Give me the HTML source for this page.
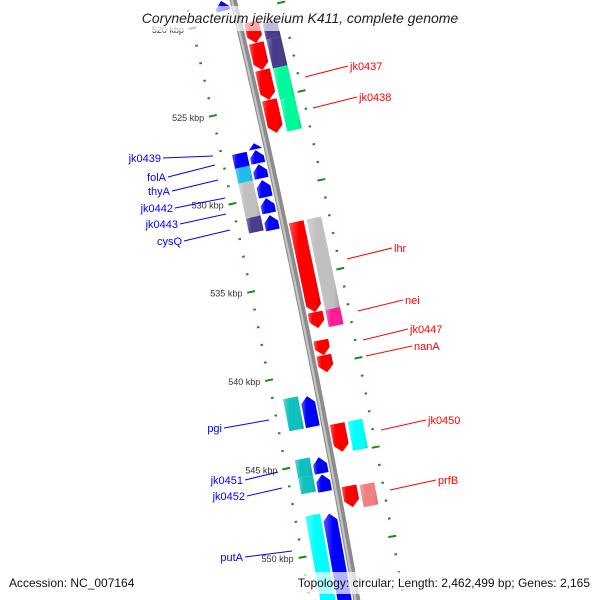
<!DOCTYPE html>
<html><head><meta charset="utf-8"><style>
html,body{margin:0;padding:0;background:#fff;width:600px;height:600px;overflow:hidden}
svg{display:block;font-family:"Liberation Sans",sans-serif;overflow:hidden}
</style></head><body>
<svg id="map" width="600" height="600" viewBox="0 0 600 600" xmlns="http://www.w3.org/2000/svg">
<defs id="defs"></defs>
<g id="ticks"></g>
<g id="backbone"></g>
<g id="genes"></g>
<g id="labels" font-size="11"></g>
<rect x="0" y="6" width="600" height="25" fill="#fff" fill-opacity="0.65"/>
<text x="300" y="23" text-anchor="middle" font-size="14" font-style="italic" fill="#222">Corynebacterium jeikeium K411, complete genome</text>
<rect x="0" y="572" width="600" height="22" fill="#fff" fill-opacity="0.7"/>
<text x="9" y="587" font-size="12" fill="#111">Accession: NC_007164</text>
<text x="590" y="587" text-anchor="end" font-size="12" fill="#111">Topology: circular; Length: 2,462,499 bp; Genes: 2,165</text>
</svg>
<script>
// ---- data (kbp) ----
const geneStart = [518.9, 520.42,521.61,523.14,524.83, 520.6,521.55,523.19,524.94,
  526.98,527.37,528.17,529.07,530.09,531.05, 527.35,528.14,528.98,530.96,
  531.72,536.81,538.39,539.24, 531.72,536.81,
  541.19,541.27,543.08,543.08, 544.63,545.65,544.72,545.68, 546.58,546.64, 547.8,547.88];
const geneEnd = [519.47, 521.61,523.14,524.83,526.70, 521.55,523.19,524.94,526.75,
  527.32,528.11,528.96,530.03,530.93,531.89, 528.14,528.98,530.96,531.81,
  536.81,537.71,539.24,540.2, 536.81,537.77,
  543.0,543.0,544.66,544.72, 545.65,546.55,545.62,546.64, 547.77,547.88, 554,554];
const geneLane = [-1, 1,1,1,1, 2,2,2,2, -1,-1,-1,-1,-1,-1, -2,-2,-2,-2, 1,1,1,1, 2,2,
  -2,-1,1,2, -2,-2,-1,-1, 1,2, -2,-1];
const geneColor = ['#0000ff','#ff0000','#ff0000','#ff0000','#ff0000','#483d8b','#483d8b','#00fa9a','#00fa9a',
  '#0000ff','#0000ff','#0000ff','#0000ff','#0000ff','#0000ff','#0000ff','#22bbee','#c0c0c0','#483d8b',
  '#ff0000','#ff0000','#ff0000','#ff0000','#c0c0c0','#ff1e96',
  '#10c0c0','#0000ff','#ff0000','#00ffff','#10c0c0','#10c0c0','#0000ff','#0000ff','#ff0000','#f08080','#00ffff','#0000ff'];
const geneArrow = [1,1,1,1,1,0,0,0,0,1,1,1,1,1,1,0,0,0,0,1,1,1,1,0,0,0,1,1,0,0,0,1,1,1,0,0,1];
const majorTicks = [520,525,530,535,540,545,550,555];
const tickLabels = ['520 kbp','525 kbp','530 kbp','535 kbp','540 kbp','545 kbp','550 kbp','555 kbp'];
const outerMajorTicks = [519.75,524.75,529.75,534.75,539.75,544.75,549.75,554.75];

// ---- geometry ----
const NS='http://www.w3.org/2000/svg';
const R=10000, P0=[283,220], phi0=12.1*Math.PI/180, BP0=531.47, K=18.1;
const C=[P0[0]-R*Math.cos(phi0), P0[1]+R*Math.sin(phi0)];
function pt(bp,off){const s=(bp-BP0)*K;const phi=phi0-s/R;const r=R+off;return [C[0]+r*Math.cos(phi), C[1]-r*Math.sin(phi)];}
const lanes={'1':[5,20],'2':[23,38],'-1':[-19,-5],'-2':[-36,-21]};
function mk(tag,attrs,parent){const e=document.createElementNS(NS,tag);for(const k in attrs)e.setAttribute(k,attrs[k]);parent.appendChild(e);return e;}
function P(a){return a.map(p=>p[0].toFixed(1)+','+p[1].toFixed(1)).join(' ');}
function shade(hex,f){let n=parseInt(hex.slice(1),16);let r=n>>16,g=(n>>8)&255,b=n&255;
 const m=c=>Math.max(0,Math.min(255,Math.round(f>0?c+(255-c)*f:c*(1+f))));return 'rgb('+m(r)+','+m(g)+','+m(b)+')';}

// ticks
const tg=document.getElementById('ticks');
for(let bp=517;bp<=556;bp++){
  const maj=bp%5===0;
  const a=pt(bp,maj?-50:-47.5), b=pt(bp,maj?-42:-45);
  const l=mk('line',{x1:a[0],y1:a[1],x2:b[0],y2:b[1],stroke:'#1a8a1a','stroke-width':2},tg);
  
  
}
majorTicks.forEach((bp,i)=>{
  const p=pt(bp,-55);
  const t=mk('text',{x:p[0],y:p[1]+3,'text-anchor':'end','font-size':9,fill:'#333'},tg);
  t.textContent=tickLabels[i];
  
  
});
for(let k=-2;k<=36;k++){
  const bp=outerMajorTicks[0]+k; const maj=(k%5===0);
  const a=pt(bp,maj?42:45), b=pt(bp,maj?50:47.5);
  const l=mk('line',{x1:a[0],y1:a[1],x2:b[0],y2:b[1],stroke:'#1a8a1a','stroke-width':2},tg);
  
  
}

// backbone
const bg=document.getElementById('backbone');
const bb=[],bb2=[];for(let bp=516;bp<=557;bp+=0.5){bb.push(pt(bp,0));bb2.push(pt(bp,-1.3));}
const b1=mk('polyline',{points:P(bb),fill:'none',stroke:'#8c8c8c','stroke-width':7},bg);


const b2=mk('polyline',{points:P(bb2),fill:'none',stroke:'#c4c4c4','stroke-width':2.2},bg);



// genes
const defs=document.getElementById('defs');
const gg=document.getElementById('genes');
const gradIds={};
function grad(col){if(gradIds[col])return gradIds[col];const id='g'+Object.keys(gradIds).length;
 const lg=mk('linearGradient',{id:id,x1:0,y1:0,x2:1,y2:0},defs);
 mk('stop',{offset:0,'stop-color':shade(col,0.35)},lg);mk('stop',{offset:0.3,'stop-color':col},lg);
 mk('stop',{offset:0.8,'stop-color':col},lg);mk('stop',{offset:1,'stop-color':shade(col,-0.15)},lg);
 gradIds[col]=id;return id;}
geneStart.forEach((s,i)=>{
  const e=geneEnd[i], ln=lanes[String(geneLane[i])], o1=ln[0], o2=ln[1], mid=(o1+o2)/2;
  const fwd=geneLane[i]>0; const h=Math.min(7/K,(e-s));
  let pts=[];
  const steps=Math.max(2,Math.ceil((e-s)/0.5));
  if(!geneArrow[i]){
    for(let j=0;j<=steps;j++)pts.push(pt(s+(e-s)*j/steps,o1));
    for(let j=steps;j>=0;j--)pts.push(pt(s+(e-s)*j/steps,o2));
  } else if(fwd){
    const be=e-h;
    for(let j=0;j<=steps;j++)pts.push(pt(s+(be-s)*j/steps,o1));
    pts.push(pt(e,mid));
    for(let j=steps;j>=0;j--)pts.push(pt(s+(be-s)*j/steps,o2));
  } else {
    const bs=s+h;
    pts.push(pt(s,mid));
    for(let j=0;j<=steps;j++)pts.push(pt(bs+(e-bs)*j/steps,o1));
    for(let j=steps;j>=0;j--)pts.push(pt(bs+(e-bs)*j/steps,o2));
  }
  const poly=mk('polygon',{points:P(pts),fill:'url(#'+grad(geneColor[i])+')'},gg);
  
  
});

// labels
const lg=document.getElementById('labels');
const labelNames=['jk0437','jk0438','lhr','nei','jk0447','nanA','jk0450','prfB','jk0439','folA','thyA','jk0442','jk0443','cysQ','pgi','jk0451','jk0452','putA'];
const labelLines=[[305,77,348,66],[313,108,357,97],[347,259,392,248],[358,311,403,300],[363,340,408,329],[366,356,412,346],[381,430,426,420],[390,490,436,480],
 [213,156,163,158],[215,165,168,177],[218,180,172,191],[225,198,175,208],[226,214,180,224],[230,230,184,241],[269,420,224,428],[278,472,245,480],[282,488,247,496],[292,551,245,557]];
labelNames.forEach((n,i)=>{
  const L=labelLines[i]; const right=i<8; const col=right?'#ff0000':'#0000ff';
  const l=mk('line',{x1:L[0],y1:L[1],x2:L[2],y2:L[3],stroke:col,'stroke-width':1},lg);
  
  
  const t=mk('text',{x:right?L[2]+2:L[2]-2,y:L[3]+4,'text-anchor':right?'start':'end',fill:col},lg);
  t.textContent=n;
  
  
});
</script>
</body></html>
